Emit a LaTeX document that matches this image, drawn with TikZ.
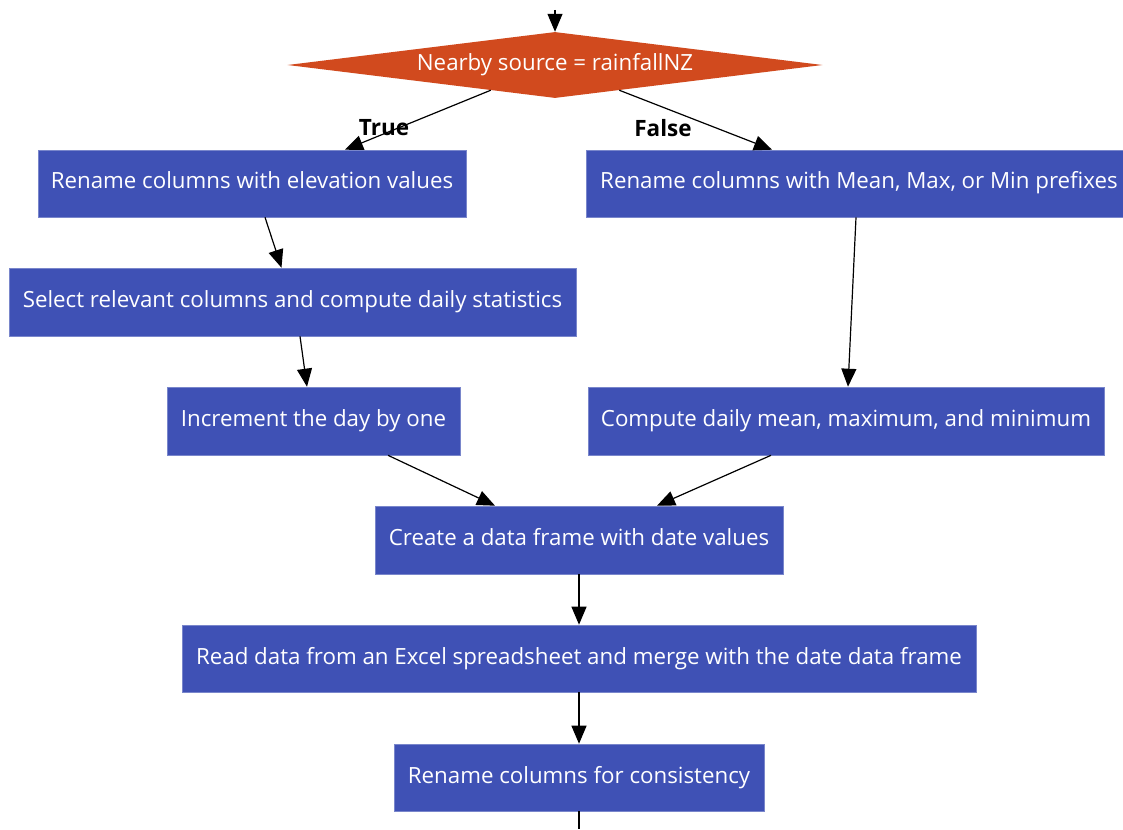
\documentclass[tikz,border=0pt]{standalone}
\usepackage{fontspec}
\setmainfont{Open Sans}
\usetikzlibrary{shapes.geometric,arrows.meta,calc}
\definecolor{boxblue}{HTML}{3F51B5}
\definecolor{boxedge}{HTML}{7986CB}
\definecolor{diaorange}{HTML}{D14A1E}
\tikzset{
  stepbox/.style={rectangle,fill=boxblue,draw=boxedge,line width=0.6pt,text=white,
    font=\fontsize{22.3}{26}\selectfont,inner sep=0pt,minimum height=67pt,
    text height=16pt,text depth=5pt},
  decision/.style={diamond,fill=diaorange,draw=none,text=white,aspect=8,inner sep=0pt,
    font=\fontsize{22.3}{26}\selectfont,minimum width=535pt,minimum height=66pt},
  arr/.style={draw=black,line width=1.2pt,-{Triangle[length=18pt,width=15pt]}},
  plainline/.style={draw=black,line width=1.2pt},
  lbl/.style={font=\bfseries\fontsize{22.5}{26}\selectfont,text=black,inner sep=0pt}
}
\begin{document}
\begin{tikzpicture}[x=1pt,y=-1pt]
\useasboundingbox (0,0) rectangle (1123,829);
\node[decision] (dia) at (555,65) {Nearby source = rainfallNZ};
\node[stepbox,minimum width=428pt] (b1) at (252,183.5) {Rename columns with elevation values};
\node[stepbox,minimum width=546pt] (b2) at (859,183.5) {Rename columns with Mean, Max, or Min prefixes};
\node[stepbox,minimum width=567pt,minimum height=68pt] (b3) at (292.5,302) {Select relevant columns and compute daily statistics};
\node[stepbox,minimum width=293pt,minimum height=68pt] (b4) at (313.5,421) {Increment the day by one};
\node[stepbox,minimum width=516pt,minimum height=68pt] (b5) at (846,421) {Compute daily mean, maximum, and minimum};
\node[stepbox,minimum width=408pt,minimum height=68pt] (b6) at (579,540) {Create a data frame with date values};
\node[stepbox,minimum width=794pt] (b7) at (579,658.5) {Read data from an Excel spreadsheet and merge with the date data frame};
\node[stepbox,minimum width=370pt] (b8) at (579,777.5) {Rename columns for consistency};
\node[lbl] (ltrue) at (384,128) {True};
\node[lbl] (lfalse) at (663,128) {False};
\coordinate (top) at (555,10);
\coordinate (bot) at (579,829);
\draw[arr] (top) -- (dia.north);
\draw[arr] ($(dia.south)!0.24!(dia.west)$) -- ([xshift=93pt]b1.north);
\draw[arr] ($(dia.south)!0.24!(dia.east)$) -- ([xshift=-87pt]b2.north);
\draw[arr] ([xshift=13pt]b1.south) -- ([xshift=-11pt]b3.north);
\draw[arr] ([xshift=7.5pt]b3.south) -- ([xshift=-6.5pt]b4.north);
\draw[arr] ([xshift=-3pt]b2.south) -- ([xshift=2pt]b5.north);
\draw[arr] ([xshift=74.5pt]b4.south) -- ([xshift=-84pt]b6.north);
\draw[arr] ([xshift=-75pt]b5.south) -- ([xshift=78pt]b6.north);
\draw[arr] (b6.south) -- (b7.north);
\draw[arr] (b7.south) -- (b8.north);
\draw[plainline] (b8.south) -- (bot);
\end{tikzpicture}
\end{document}
